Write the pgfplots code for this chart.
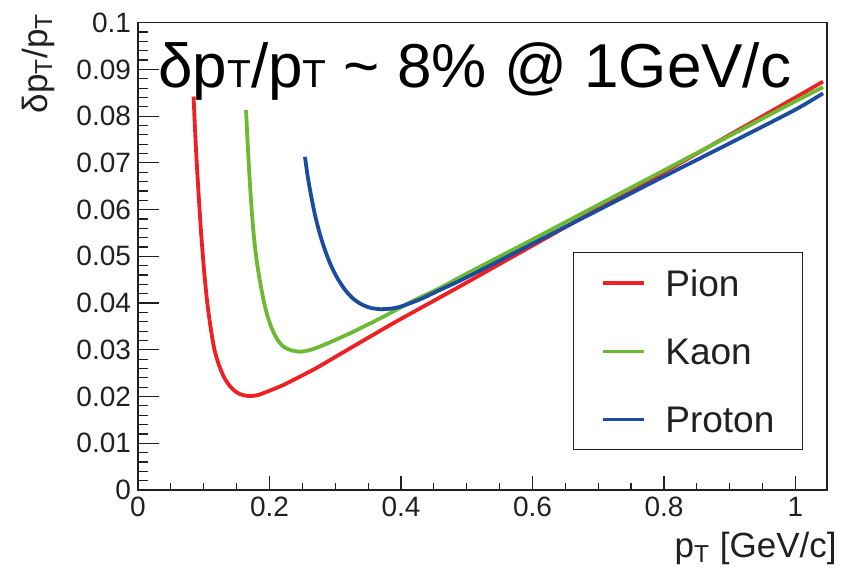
\documentclass[border=0pt]{standalone}
\usepackage{fontspec}
\setmainfont{Liberation Sans}
\usepackage{pgfplots}
\pgfplotsset{compat=1.18}
\usepackage{pgfplotstable}

\definecolor{pionred}{RGB}{237,32,36}
\definecolor{kaongreen}{RGB}{108,186,52}
\definecolor{protonblue}{RGB}{28,76,158}
\definecolor{ink}{RGB}{35,31,32}

% transverse momentum resolution vs pT
\pgfplotstableread{
pt     res
0.0845 0.0842
0.0880 0.0735
0.0918 0.0642
0.0960 0.0550
0.1005 0.0470
0.1050 0.0405
0.1100 0.0352
0.1160 0.0302
0.1230 0.0268
0.1310 0.0241
0.1400 0.0222
0.1500 0.0209
0.1600 0.0203
0.1700 0.0201
0.1820 0.0203
0.1957 0.0210
0.2200 0.0224
0.2413 0.0239
0.2700 0.0260
0.2920 0.0278
0.3430 0.0320
0.3934 0.0361
0.4590 0.0412
0.5000 0.0444
0.6000 0.0523
0.7000 0.0602
0.8000 0.0680
0.9000 0.0760
1.0000 0.0840
1.0420 0.0874
}\pion

\pgfplotstableread{
pt     res
0.1643 0.0813
0.1665 0.0750
0.1693 0.0678
0.1725 0.0607
0.1764 0.0540
0.1808 0.0488
0.1856 0.0446
0.1910 0.0406
0.1970 0.0372
0.2040 0.0344
0.2120 0.0322
0.2210 0.0307
0.2330 0.0299
0.2464 0.0296
0.2600 0.0299
0.2768 0.0307
0.3174 0.0332
0.3680 0.0367
0.4188 0.0405
0.4590 0.0432
0.5000 0.0463
0.6000 0.0536
0.7000 0.0610
0.8000 0.0684
0.9000 0.0758
1.0000 0.0832
1.0420 0.0862
}\kaon

\pgfplotstableread{
pt     res
0.2540 0.0713
0.2580 0.0672
0.2630 0.0632
0.2690 0.0590
0.2760 0.0551
0.2840 0.0515
0.2930 0.0482
0.3030 0.0454
0.3140 0.0430
0.3260 0.0411
0.3390 0.0398
0.3530 0.0390
0.3680 0.0387
0.3830 0.0388
0.3985 0.0392
0.4290 0.0408
0.4590 0.0428
0.5000 0.0455
0.6000 0.0527
0.7000 0.0599
0.8000 0.0671
0.9000 0.0742
1.0000 0.0814
1.0420 0.0849
}\proton

\begin{document}
\begin{tikzpicture}
\useasboundingbox (-69pt,-38.5pt) rectangle (353pt,245pt);
\begin{axis}[
  scale only axis,
  width=344.5pt, height=233.65pt,
  xmin=0, xmax=1.048, ymin=0, ymax=0.1,
  xtick={0,0.2,0.4,0.6,0.8,1},
  ytick={0,0.01,0.02,0.03,0.04,0.05,0.06,0.07,0.08,0.09,0.1},
  minor x tick num=3, minor y tick num=4,
  xtick pos=bottom, ytick pos=left, tick align=inside,
  scaled ticks=false,
  /pgf/number format/assume math mode=true,
  /pgf/number format/fixed,
  /pgf/number format/precision=2,
  ticklabel style={font=\fontsize{14}{16}\selectfont, text=ink},
  major tick length=10.5pt, minor tick length=5pt,
  major x tick style={/pgfplots/major tick length=6.8pt},
  minor x tick style={/pgfplots/minor tick length=3.5pt},
  tick style={ink, line width=0.6pt},
  axis line style={ink, line width=0.6pt},
  xlabel={p\textsubscript{T} [GeV/c]},
  ylabel={δp\textsubscript{T}/p\textsubscript{T}},
  label style={font=\fontsize{17.5}{19}\selectfont, text=ink, inner sep=0pt},
  xlabel style={at={(axis description cs:1.0145,-0.145)}, anchor=base east},
  ylabel style={at={(axis description cs:-0.132,1.021)}, anchor=base east},
  legend style={at={(rel axis cs:0.6313,0.5093)}, anchor=north west,
    draw=ink, line width=0.6pt, fill=white,
    inner xsep=14pt, inner ysep=8.5pt,
    nodes={inner sep=0pt, text depth=0pt, text=ink},
    row sep=21.2pt,
    font=\fontsize{18.5}{20}\selectfont,
    /tikz/every odd column/.append style={column sep=9.5pt}},
  legend cell align=left,
  legend image code/.code={\draw[#1] (0pt,0pt) -- (20.5pt,0pt);},
]
\addplot[pionred, line width=1.9pt, smooth, tension=0.45] table[x=pt, y=res] {\pion};
\addlegendentry{Pion}
\addplot[kaongreen, line width=1.9pt, smooth, tension=0.45] table[x=pt, y=res] {\kaon};
\addlegendentry{Kaon}
\addplot[protonblue, line width=1.9pt, smooth, tension=0.45] table[x=pt, y=res] {\proton};
\addlegendentry{Proton}
\end{axis}
\node[anchor=base west, inner sep=0pt, font=\fontsize{31}{33}\selectfont]
  at (10pt,201pt) {δp{\fontsize{19.5}{20}\selectfont T}/p{\fontsize{19.5}{20}\selectfont T} \textasciitilde{} 8\% @ 1GeV/c};
\end{tikzpicture}
\end{document}
